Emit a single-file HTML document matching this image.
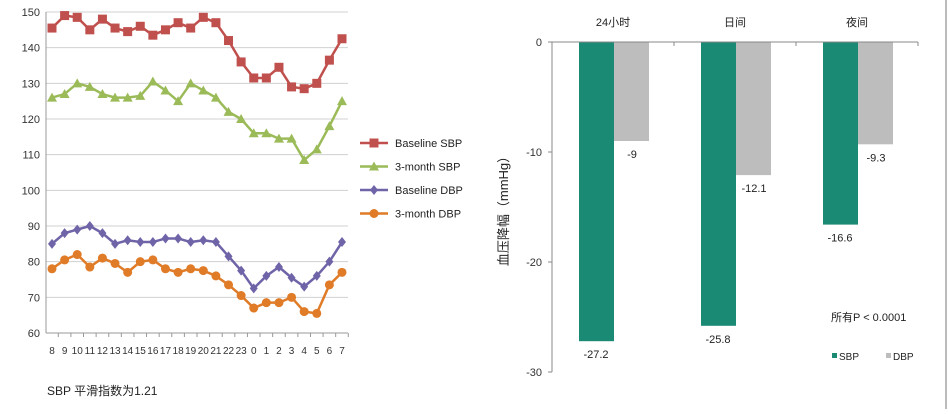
<!DOCTYPE html>
<html><head><meta charset="utf-8"><style>
body{margin:0;background:#fff;font-family:"Liberation Sans","Noto Sans CJK SC",sans-serif;}
svg text{font-family:"Liberation Sans","Noto Sans CJK SC",sans-serif;}
</style></head><body>
<svg id="c" width="948" height="409" viewBox="0 0 948 409" xmlns="http://www.w3.org/2000/svg">
<line x1="946" y1="0" x2="946" y2="409" stroke="#bbb" stroke-width="2"/>
<text x="47" y="395" font-size="12" fill="#222">SBP 平滑指数为1.21</text>
<g id="left"></g>
<g id="right"></g>
</svg>
<script>
const hours=["8","9","10","11","12","13","14","15","16","17","18","19","20","21","22","23","0","1","2","3","4","5","6","7"];
const baselineSBP=[145.5,149,148.5,145,148,145.5,144.5,146,143.5,145,147,145.5,148.5,147,142,136,131.5,131.5,134.5,129,128.5,130,136.5,142.5];
const month3SBP=[126,127,130,129,127,126,126,126.5,130.5,128,125,130,128,126,122,120,116,116,114.5,114.5,108.5,111.5,118,125];
const baselineDBP=[85,88,89,90,88,85,86,85.5,85.5,86.5,86.5,85.5,86,85.5,81.5,77.5,72.5,76,78.5,75.5,73,76,80,85.5];
const month3DBP=[78,80.5,82,78.5,81,79.5,77,80,80.5,78,77,78,77.5,76,73.5,70.5,67,68.5,68.5,70,66,65.5,73.5,77];
const leftTicks=[60,70,80,90,100,110,120,130,140,150];
const categories=["24小时","日间","夜间"];
const sbpDrop=[-27.2,-25.8,-16.6];
const dbpDrop=[-9,-12.1,-9.3];
const rightTicks=[0,-10,-20,-30];

const NS="http://www.w3.org/2000/svg";
function mk(p,t,a,txt){const e=document.createElementNS(NS,t);for(const k in a)e.setAttribute(k,a[k]);if(txt!==undefined)e.textContent=txt;p.appendChild(e);return e;}
// left
const L=document.getElementById('left');
const ly=v=>333-(v-60)*(321/90);
const lx=i=>52+i*(290/23);
leftTicks.forEach(t=>{
 let g=mk(L,'line',{x1:46,x2:348,y1:ly(t),y2:ly(t),stroke:t===60?'#999':'#d0d0d0'});
 
 let tx=mk(L,'text',{x:40,y:ly(t)+4,'font-size':11,'text-anchor':'end',fill:'#333'},t);
 
});
mk(L,'line',{x1:46,x2:46,y1:12,y2:333,stroke:'#999'});
hours.forEach((h,i)=>{
 mk(L,'line',{x1:lx(i)+6.3,x2:lx(i)+6.3,y1:333,y2:337,stroke:'#999'});
 let tx=mk(L,'text',{x:lx(i),y:354,'font-size':10,'text-anchor':'middle',fill:'#333'},h);
 
});
const series=[
 {n:'Baseline SBP',d:baselineSBP,c:'#c0504d',m:'sq'},
 {n:'3-month SBP',d:month3SBP,c:'#9bbb59',m:'tri'},
 {n:'Baseline DBP',d:baselineDBP,c:'#7064a8',m:'dia'},
 {n:'3-month DBP',d:month3DBP,c:'#e07b27',m:'cir'}];
function marker(p,m,x,y,c){
 if(m==='sq')return mk(p,'rect',{x:x-4.5,y:y-4.5,width:9,height:9,fill:c});
 if(m==='tri')return mk(p,'polygon',{points:`${x},${y-5} ${x-5},${y+4} ${x+5},${y+4}`,fill:c});
 if(m==='dia')return mk(p,'polygon',{points:`${x},${y-5} ${x+4},${y} ${x},${y+5} ${x-4},${y}`,fill:c});
 return mk(p,'circle',{cx:x,cy:y,r:4.5,fill:c});
}
series.forEach((s,si)=>{
 const g=mk(L,'g',{});
 
 mk(g,'polyline',{points:s.d.map((v,i)=>lx(i)+','+ly(v)).join(' '),fill:'none',stroke:s.c,'stroke-width':2.5});
 s.d.forEach((v,i)=>{const m=marker(g,s.m,lx(i),ly(v),s.c);});
 const yy=143+si*23.5;
 const lg=mk(L,'g',{});
 
 mk(lg,'line',{x1:360,x2:388,y1:yy,y2:yy,stroke:s.c,'stroke-width':2.5});
 marker(lg,s.m,374,yy,s.c);
 mk(lg,'text',{x:395,y:yy+4,'font-size':11,fill:'#222'},s.n);
});
// right
const R=document.getElementById('right');
const ry=v=>42-v*(330/30);
const x0=552,cw=122;
rightTicks.forEach(t=>{
 mk(R,'line',{x1:548,x2:552,y1:ry(t),y2:ry(t),stroke:'#888'});
 let tx=mk(R,'text',{x:542,y:ry(t)+4,'font-size':11,'text-anchor':'end',fill:'#333'},t);
 
});
mk(R,'line',{x1:552,x2:552,y1:42,y2:372,stroke:'#888'});
let yt=mk(R,'text',{x:0,y:0,'font-size':13,'text-anchor':'middle',fill:'#222',transform:'translate(508,208) rotate(-90)'},'血压降幅（mmHg）');

categories.forEach((c,i)=>{
 const gx=x0+i*cw;
 let tx=mk(R,'text',{x:gx+cw/2,y:26,'font-size':11,'text-anchor':'middle',fill:'#222'},c);
 
 let b1=mk(R,'rect',{x:gx+27,y:ry(0),width:35,height:ry(sbpDrop[i])-ry(0),fill:'#1b8a74'});
 
 let b2=mk(R,'rect',{x:gx+62,y:ry(0),width:35,height:ry(dbpDrop[i])-ry(0),fill:'#bdbdbd'});
 
 let l1=mk(R,'text',{x:gx+44,y:ry(sbpDrop[i])+17,'font-size':11,'text-anchor':'middle',fill:'#222'},sbpDrop[i]);
 
 let l2=mk(R,'text',{x:gx+80,y:ry(dbpDrop[i])+17,'font-size':11,'text-anchor':'middle',fill:'#222'},dbpDrop[i]);
 
});
mk(R,'line',{x1:552,x2:918,y1:42,y2:42,stroke:'#888'});
[1,2,3].forEach(k=>mk(R,'line',{x1:x0+k*cw,x2:x0+k*cw,y1:42,y2:46,stroke:'#888'}));
let nt=mk(R,'text',{x:831,y:321,'font-size':11,fill:'#222'},'所有P < 0.0001');

[['SBP','#1b8a74',832],['DBP','#bdbdbd',886]].forEach(([n,c,x])=>{
 const g=mk(R,'g',{});
 
 mk(g,'rect',{x:x,y:353,width:5,height:5,fill:c});
 mk(g,'text',{x:x+7,y:360,'font-size':10,fill:'#222'},n);
});
</script>
</body></html>
